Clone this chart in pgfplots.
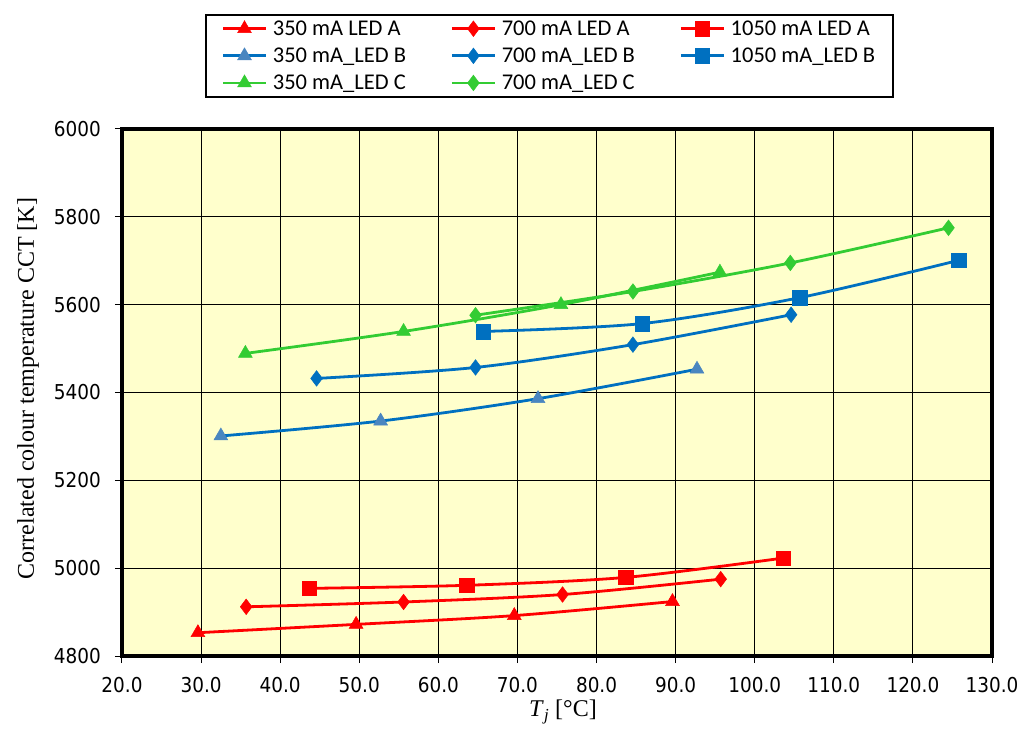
\documentclass[border=0pt]{standalone}
\usepackage{fontspec}
\setmainfont{Liberation Serif}
\newfontfamily\tickfont{DejaVu Sans Condensed}
\newfontfamily\legfont{Carlito}
\usepackage{pgfplots}
\pgfplotsset{compat=1.18}
\definecolor{bgyellow}{RGB}{255,255,204}
\definecolor{ledred}{RGB}{255,0,0}
\definecolor{ledblue}{RGB}{0,112,192}
\definecolor{ledlightblue}{RGB}{74,134,192}
\definecolor{ledgreen}{RGB}{51,204,51}
\begin{document}
\begin{tikzpicture}
\begin{axis}[
  name=ax,
  scale only axis,
  width=870pt, height=527pt,
  xmin=20, xmax=130, ymin=4800, ymax=6000,
  xtick={20,30,...,130},
  ytick={4800,5000,...,6000},
  tick pos=left,
  tick align=outside,
  major tick length=7pt,
  every tick/.style={black, line width=1pt},
  grid=major,
  major grid style={black, line width=1pt},
  axis line style={line width=3.3pt},
  axis background/.style={fill=bgyellow},
  /pgf/number format/assume math mode=true,
  /pgf/number format/1000 sep={},
  xticklabel style={/pgf/number format/fixed, /pgf/number format/fixed zerofill, /pgf/number format/precision=1, font=\tickfont\fontsize{20.5}{22}\selectfont, inner sep=0pt, anchor=north, yshift=-14pt},
  yticklabel style={font=\tickfont\fontsize{20.5}{22}\selectfont, inner sep=0pt, anchor=east, xshift=-14pt},
  xlabel={\textit{T}\textsubscript{\textit{j}} [°C]},
  ylabel={Correlated colour temperature CCT [K]},
  every axis x label/.style={at={(rel axis cs:0.5,0)}, anchor=center, yshift=-56pt, xshift=6pt, font=\fontsize{24}{26}\selectfont},
  every axis y label/.style={at={(rel axis cs:0,0.5)}, anchor=center, rotate=90, yshift=94pt, xshift=4pt, font=\fontsize{24}{26}\selectfont},
  legend columns=3,
  legend cell align=left,
  legend style={at={(rel axis cs:0.491,1)}, anchor=south, yshift=31pt,
    draw=black, line width=2pt, fill=white,
    font=\legfont\fontsize{22.5}{24}\selectfont,
    /tikz/every even column/.append style={column sep=43pt},
    /tikz/every odd column/.append style={column sep=4pt},
    inner xsep=16pt, inner ysep=4.5pt, row sep=8pt,
    nodes={inner sep=1.5pt}},
  legend image code/.code={\draw[mark repeat=2,mark phase=2,line width=2.8pt,#1] plot coordinates {(0pt,0pt) (21.5pt,0pt) (43pt,0pt)};},
  every axis plot/.append style={line width=2.8pt, smooth, tension=0.5},
]
% LED A
\addplot[color=ledred, mark=triangle*, mark size=8pt, mark options={solid, line width=0.5pt}] coordinates {(29.6,4853) (49.6,4872) (69.6,4892) (89.6,4924)};
\addlegendentry{350 mA LED A}
\addplot[color=ledred, mark=diamond*, mark size=7.8pt, mark options={solid, line width=0.5pt}] coordinates {(35.7,4912) (55.6,4923) (75.7,4940) (95.7,4975)};
\addlegendentry{700 mA LED A}
\addplot[color=ledred, mark=square*, mark size=7.3pt, mark options={solid, line width=0.5pt}] coordinates {(43.7,4954) (63.6,4961) (83.7,4979) (103.6,5023)};
\addlegendentry{1050 mA LED A}
% LED B
\addplot[color=ledblue, mark=triangle*, mark size=8pt, mark options={solid, line width=0.5pt, draw=ledlightblue, fill=ledlightblue}] coordinates {(32.5,5301) (52.7,5335) (72.6,5386) (92.7,5453)};
\addlegendentry{350 mA\_LED B}
\addplot[color=ledblue, mark=diamond*, mark size=7.8pt, mark options={solid, line width=0.5pt}] coordinates {(44.6,5432) (64.7,5457) (84.6,5509) (104.6,5577)};
\addlegendentry{700 mA\_LED B}
\addplot[color=ledblue, mark=square*, mark size=7.3pt, mark options={solid, line width=0.5pt}] coordinates {(65.7,5539) (85.8,5557) (105.7,5616) (125.8,5701)};
\addlegendentry{1050 mA\_LED B}
% LED C
\addplot[color=ledgreen, mark=triangle*, mark size=8pt, mark options={solid, line width=0.5pt}] coordinates {(35.6,5489) (55.6,5539) (75.5,5600) (95.6,5674)};
\addlegendentry{350 mA\_LED C}
\addplot[color=ledgreen, mark=diamond*, mark size=7.8pt, mark options={solid, line width=0.5pt}] coordinates {(64.7,5576) (84.6,5630) (104.5,5695) (124.5,5775)};
\addlegendentry{700 mA\_LED C}
\end{axis}
\path (ax.south west) ++(-122pt,-83pt) rectangle ++(1036pt,739pt);
\end{tikzpicture}
\end{document}
